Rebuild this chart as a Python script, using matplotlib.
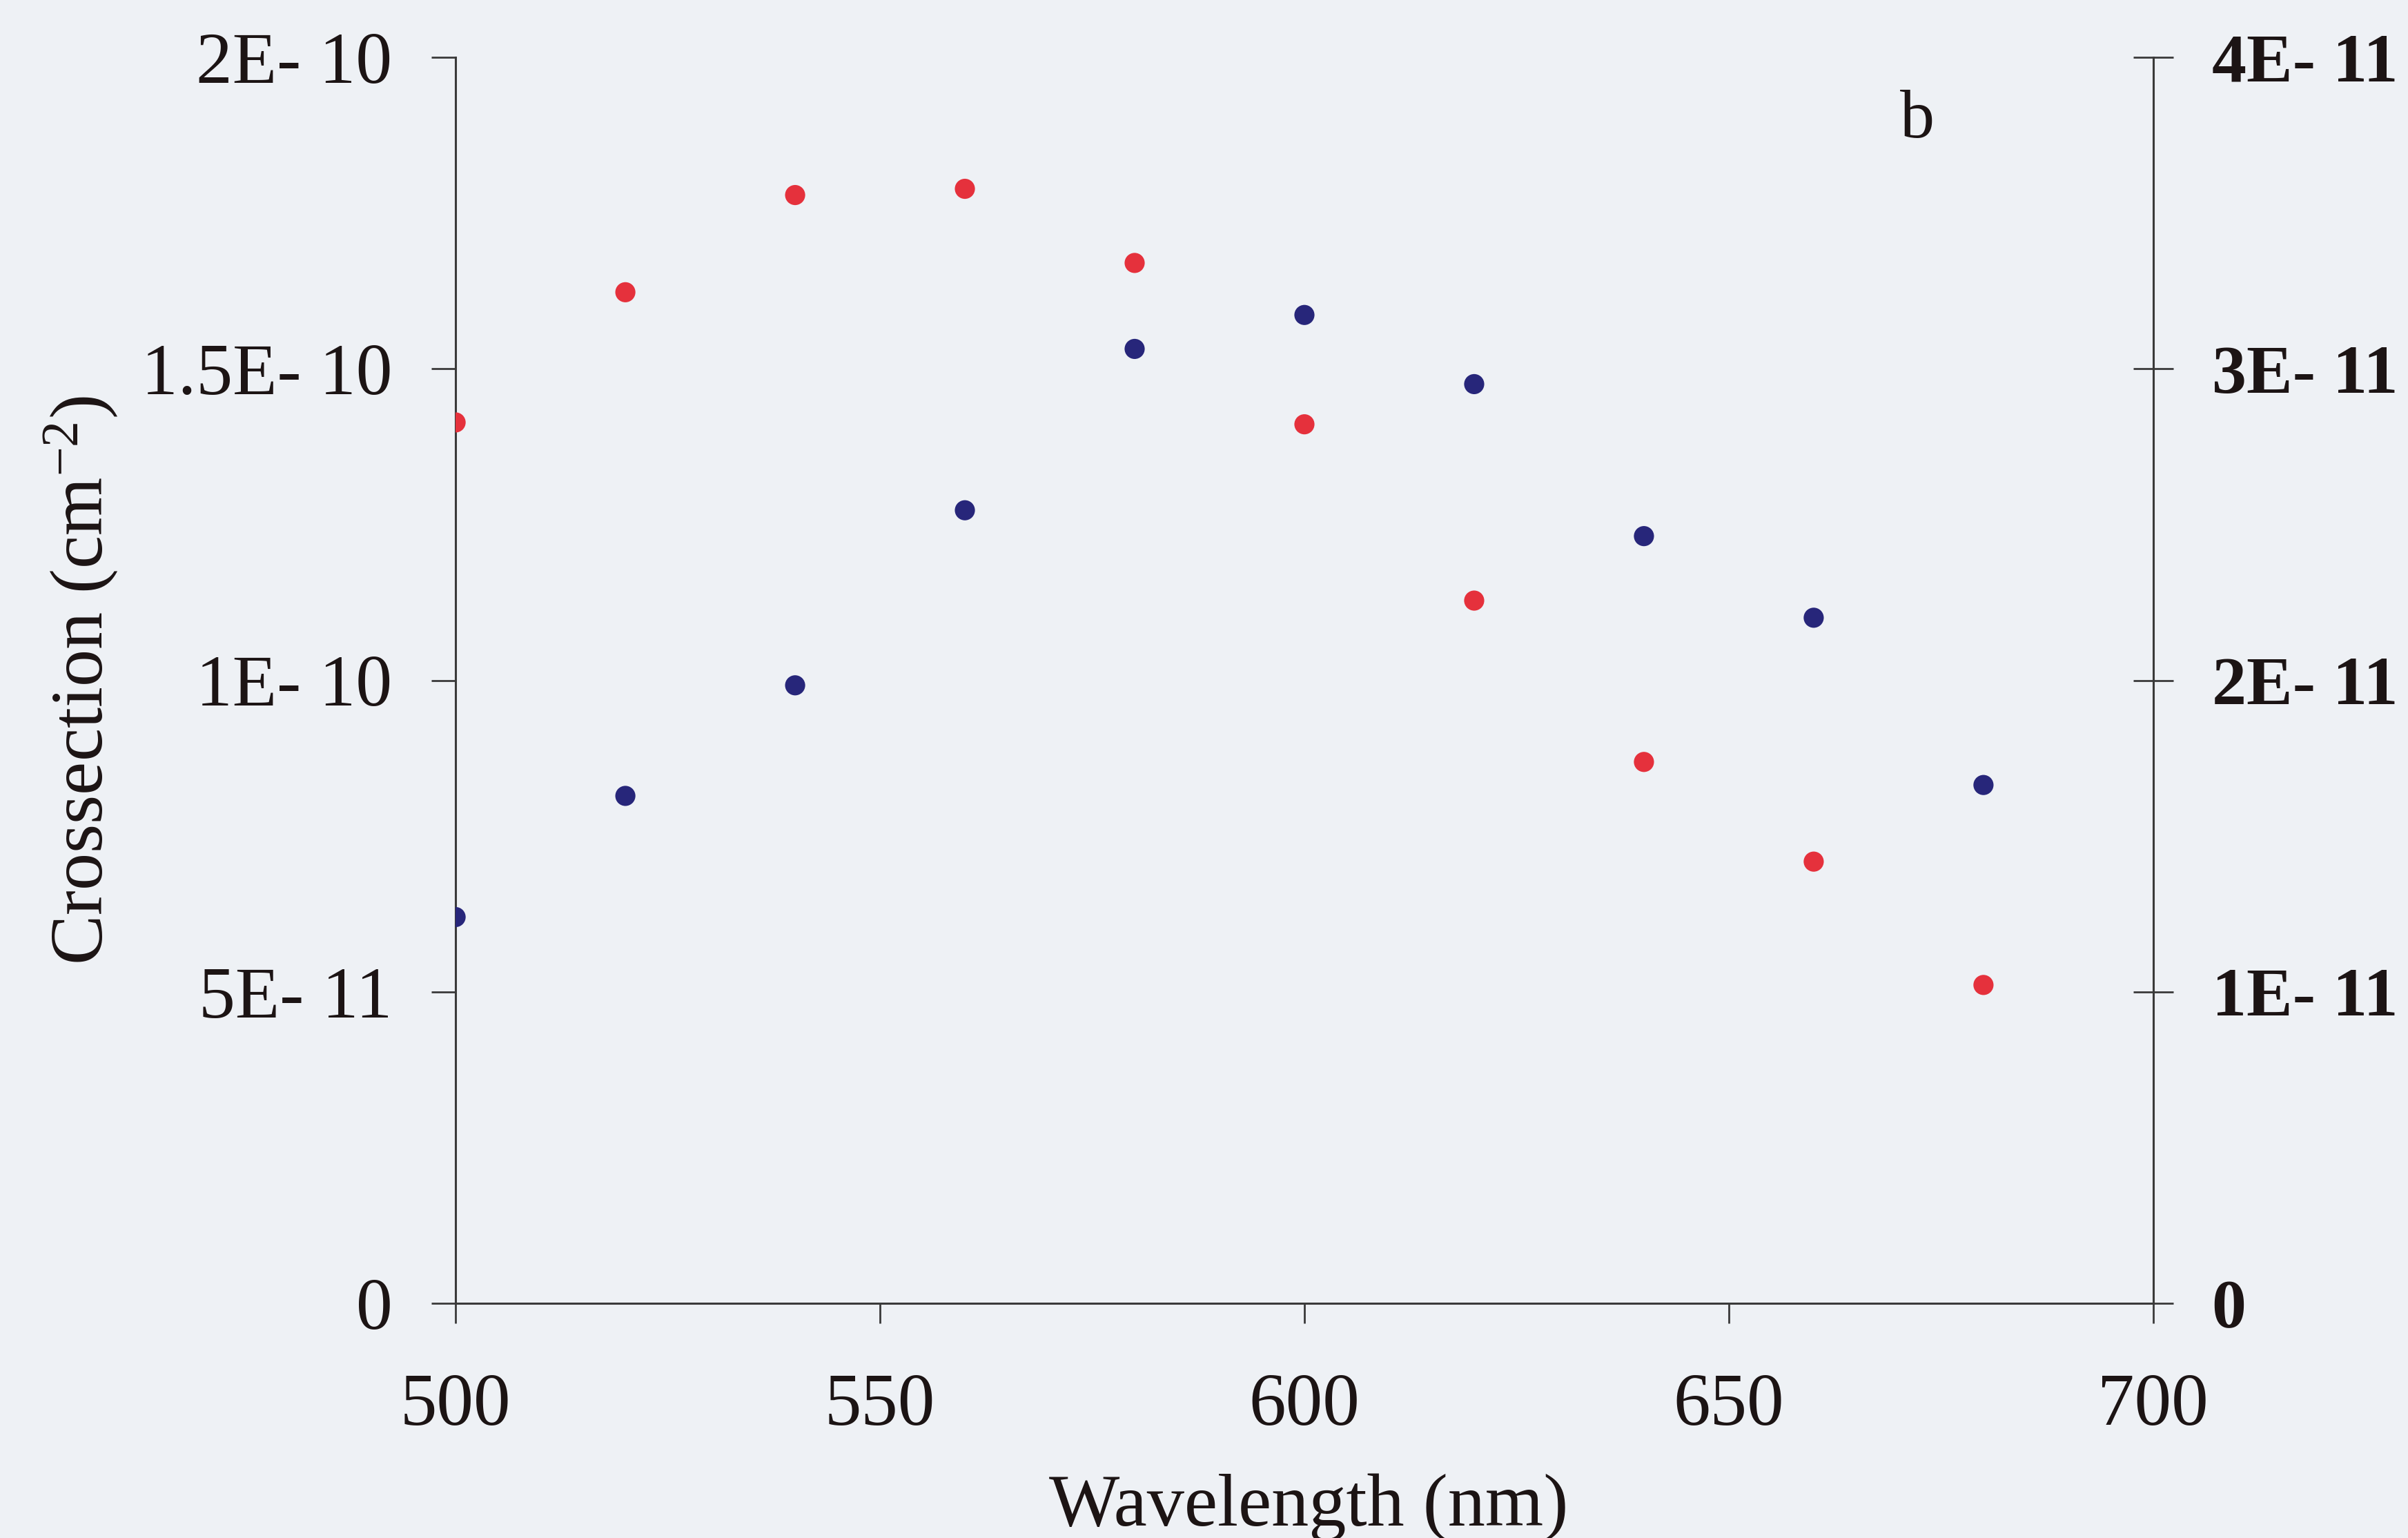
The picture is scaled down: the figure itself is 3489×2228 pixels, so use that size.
import matplotlib
matplotlib.use("Agg")
import matplotlib.pyplot as plt
from matplotlib.ticker import FixedLocator, FixedFormatter

# ---- data ----
wavelength = [500, 520, 540, 560, 580, 600, 620, 640, 660, 680]
cross_red = [1.414e-10, 1.623e-10, 1.779e-10, 1.789e-10, 1.670e-10,
             1.411e-10, 1.128e-10, 0.869e-10, 0.709e-10, 0.511e-10]
cross_blue = [1.240e-11, 1.629e-11, 1.984e-11, 2.546e-11, 3.064e-11,
              3.173e-11, 2.951e-11, 2.463e-11, 2.201e-11, 1.664e-11]

x_ticks = [500, 550, 600, 650, 700]
x_ticklabels = ["500", "550", "600", "650", "700"]
left_ticks = [0, 5e-11, 1e-10, 1.5e-10, 2e-10]
left_ticklabels = ["0", "5E- 11", "1E- 10", "1.5E- 10", "2E- 10"]
right_ticks = [0, 1e-11, 2e-11, 3e-11, 4e-11]
right_ticklabels = ["0", "1E- 11", "2E- 11", "3E- 11", "4E- 11"]

x_label = "Wavelength (nm)"
y_label = r"Crossection (cm$^{-2}$)"
panel_label = "b"

plt.rcParams["font.family"] = ["Liberation Serif", "DejaVu Serif"]
plt.rcParams["mathtext.fontset"] = "custom"
plt.rcParams["mathtext.rm"] = "Liberation Serif"
plt.rcParams["mathtext.it"] = "Liberation Serif:italic"
plt.rcParams["mathtext.bf"] = "Liberation Serif:bold"

bg = "#eef1f5"
ink = "#1c1414"
line_col = "#3a3a3a"

fig = plt.figure(figsize=(34.89, 22.28), dpi=100, facecolor=bg)
ax = fig.add_axes([0.1892, 0.1526, 0.8942 - 0.1892, 0.9627 - 0.1526])
ax.set_facecolor(bg)
ax2 = ax.twinx()

ax.scatter(wavelength, cross_red, s=21**2, color="#e5313c", edgecolors="none", zorder=3)
ax2.scatter(wavelength, cross_blue, s=21**2, color="#27267a", edgecolors="none", zorder=3)

ax.set_xlim(500, 700)
ax.set_ylim(0, 2e-10)
ax2.set_ylim(0, 4e-11)

for a in (ax, ax2):
    for side in ("top",):
        a.spines[side].set_visible(False)
    for side in ("left", "right", "bottom"):
        a.spines[side].set_color(line_col)
        a.spines[side].set_linewidth(2.2)
ax.spines["right"].set_visible(False)
ax2.spines["left"].set_visible(False)
ax2.spines["bottom"].set_visible(False)

ax.xaxis.set_major_locator(FixedLocator(x_ticks))
ax.xaxis.set_major_formatter(FixedFormatter(x_ticklabels))
ax.yaxis.set_major_locator(FixedLocator(left_ticks))
ax.yaxis.set_major_formatter(FixedFormatter(left_ticklabels))
ax2.yaxis.set_major_locator(FixedLocator(right_ticks))
ax2.yaxis.set_major_formatter(FixedFormatter(right_ticklabels))

ax.tick_params(axis="x", direction="out", length=21, width=2.0, color=line_col,
               pad=52, labelsize=77, labelcolor=ink)
ax.tick_params(axis="y", direction="out", length=25, width=2.0, color=line_col,
               pad=41, labelsize=76, labelcolor=ink)
ax2.tick_params(axis="y", direction="inout", length=42, width=2.0, color=line_col,
                pad=40, labelsize=72, labelcolor=ink)
for lbl in ax2.get_yticklabels():
    lbl.set_fontweight("bold")

fig.text(0.5435, 1 - 2210 / 2228, x_label, ha="center", va="baseline",
         fontsize=78, color=ink)
fig.text(0.0335, 0.5575, y_label, ha="center", va="center", rotation=90,
         fontsize=78, color=ink)
ax.text(0.861, 0.936, panel_label, transform=ax.transAxes, ha="center",
        va="baseline", fontsize=72, color=ink)

fig.savefig("out.png", dpi=100, facecolor=bg)
